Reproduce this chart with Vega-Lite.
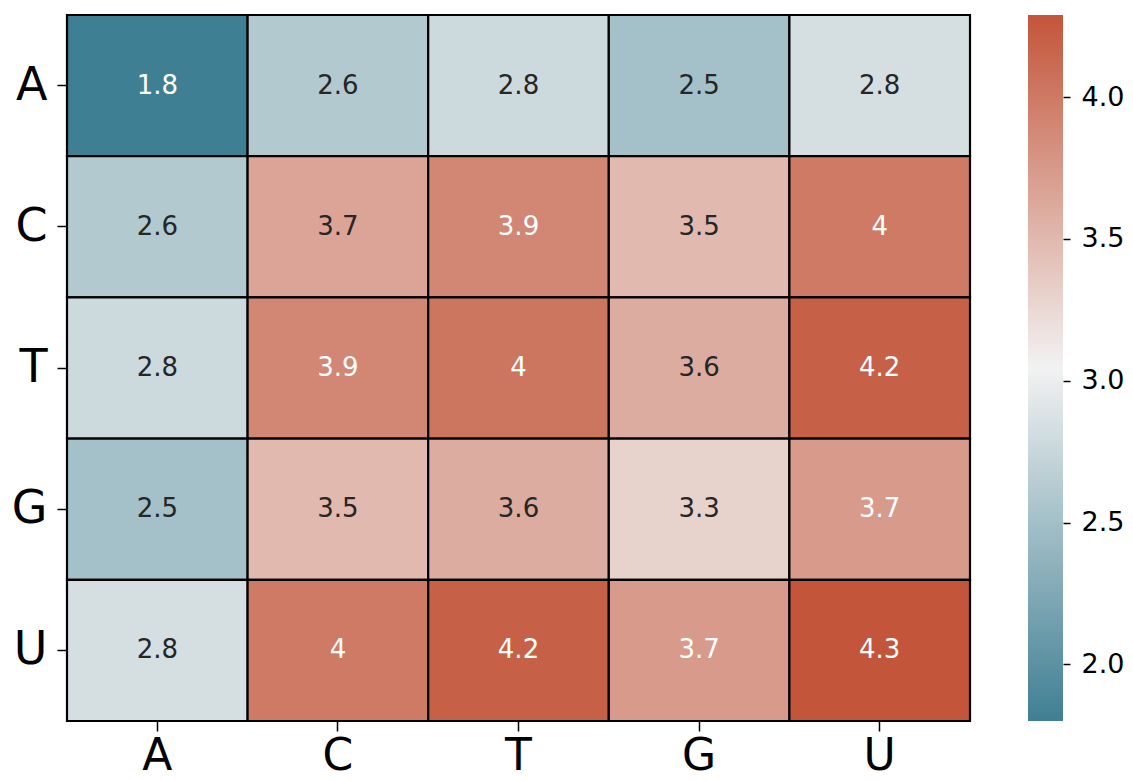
{
  "$schema": "https://vega.github.io/schema/vega-lite/v6.json",
  "autosize": {"type": "pad"},
  "padding": {"left": 11, "top": 13, "right": 0, "bottom": 0},
  "background": "white",
  "config": {
    "font": "DejaVu Sans",
    "view": {"stroke": null},
    "concat": {"spacing": 56}
  },
  "datasets": {
    "cells": [
      {"row": "A", "col": "A", "v": 1.8},
      {"row": "A", "col": "C", "v": 2.6},
      {"row": "A", "col": "T", "v": 2.78},
      {"row": "A", "col": "G", "v": 2.5},
      {"row": "A", "col": "U", "v": 2.84},
      {"row": "C", "col": "A", "v": 2.6},
      {"row": "C", "col": "C", "v": 3.66},
      {"row": "C", "col": "T", "v": 3.9},
      {"row": "C", "col": "G", "v": 3.5},
      {"row": "C", "col": "U", "v": 4.0},
      {"row": "T", "col": "A", "v": 2.78},
      {"row": "T", "col": "C", "v": 3.9},
      {"row": "T", "col": "T", "v": 4.04},
      {"row": "T", "col": "G", "v": 3.6},
      {"row": "T", "col": "U", "v": 4.2},
      {"row": "G", "col": "A", "v": 2.5},
      {"row": "G", "col": "C", "v": 3.5},
      {"row": "G", "col": "T", "v": 3.6},
      {"row": "G", "col": "G", "v": 3.3},
      {"row": "G", "col": "U", "v": 3.74},
      {"row": "U", "col": "A", "v": 2.84},
      {"row": "U", "col": "C", "v": 4.0},
      {"row": "U", "col": "T", "v": 4.2},
      {"row": "U", "col": "G", "v": 3.74},
      {"row": "U", "col": "U", "v": 4.29}
    ],
    "bar": [{"lo": 1.8, "hi": 4.29}]
  },
  "hconcat": [
    {
      "width": 903,
      "height": 706,
      "data": {"name": "cells"},
      "encoding": {
        "x": {
          "field": "col", "type": "nominal", "sort": ["A", "C", "T", "G", "U"],
          "scale": {"paddingInner": 0, "paddingOuter": 0},
          "axis": {"title": null, "orient": "bottom", "labelAngle": 0, "labelFontSize": 44, "labelColor": "black",
                   "tickSize": 10, "tickWidth": 1.5, "tickColor": "black", "domain": false, "labelPadding": 3}
        },
        "y": {
          "field": "row", "type": "nominal", "sort": ["A", "C", "T", "G", "U"],
          "scale": {"paddingInner": 0, "paddingOuter": 0},
          "axis": {"title": null, "orient": "left", "labelFontSize": 46, "labelColor": "black",
                   "tickSize": 10, "tickWidth": 1.5, "tickColor": "black", "domain": false, "labelPadding": 10}
        }
      },
      "layer": [
        {
          "mark": {"type": "rect", "stroke": "black", "strokeWidth": 2.2},
          "encoding": {
            "color": {
              "field": "v", "type": "quantitative", "legend": null,
              "scale": {"domain": [1.8, 3.045, 4.29], "range": ["#3f7f93", "#f2f2f2", "#c3553a"], "interpolate": "rgb"}
            }
          }
        },
        {
          "mark": {"type": "text", "fontSize": 26},
          "encoding": {
            "text": {"field": "v", "type": "quantitative", "format": ".2~g"},
            "color": {
              "condition": {"test": "datum.v >= 3.72 || datum.v < 2.2", "value": "white"},
              "value": "#262626"
            }
          }
        }
      ]
    },
    {
      "width": 35,
      "height": 706,
      "data": {"name": "bar"},
      "mark": {
        "type": "rect",
        "color": {
          "gradient": "linear", "x1": 0, "y1": 1, "x2": 0, "y2": 0,
          "stops": [
            {"offset": 0, "color": "#3f7f93"},
            {"offset": 0.5, "color": "#f2f2f2"},
            {"offset": 1, "color": "#c3553a"}
          ]
        }
      },
      "encoding": {
        "y": {
          "field": "lo", "type": "quantitative",
          "scale": {"domain": [1.8, 4.29], "nice": false, "zero": false},
          "axis": {"title": null, "orient": "right", "values": [2.0, 2.5, 3.0, 3.5, 4.0], "format": ".1f",
                   "labelFontSize": 27, "labelColor": "black", "tickSize": 7, "tickWidth": 1.5, "tickColor": "black",
                   "domain": false, "grid": false, "labelPadding": 11}
        },
        "y2": {"field": "hi"}
      }
    }
  ]
}
